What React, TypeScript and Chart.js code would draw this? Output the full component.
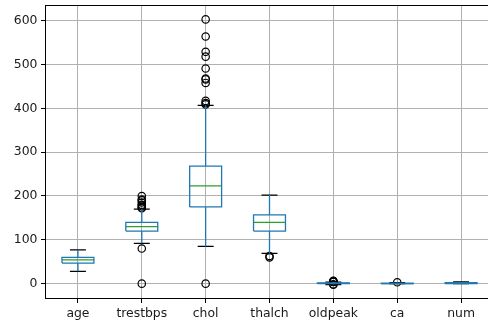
import React, { useEffect, useRef } from "react";
import { Chart, registerables } from "chart.js";

Chart.register(...registerables);

const categories = ["age", "trestbps", "chol", "thalch", "oldpeak", "ca", "num"];
const whiskerLow = [28, 92, 85, 69, -2, 0, 0];
const q1 = [47, 120, 175, 120, 0, 0, 0];
const median = [54, 130, 223, 140, 0.5, 0, 1];
const q3 = [60, 140, 268, 157, 1.5, 1, 2];
const whiskerHigh = [77, 170, 407, 202, 3.6, 2, 4];
const fliers: number[][] = [
  [],
  [0, 80, 172, 174, 178, 180, 185, 190, 192, 200],
  [0, 409, 412, 417, 458, 466, 468, 491, 518, 529, 564, 603],
  [60, 63],
  [-2.6, -1.5, 4.0, 4.2, 4.4, 5.0, 5.6, 6.2],
  [3],
  [],
];
const yTicks = [0, 100, 200, 300, 400, 500, 600];

const BOX_HALF = 0.25;
const CAP_HALF = 0.125;

type P = { x: number; y: number | null };

function buildSegments() {
  const boxes: P[] = [];
  const whiskers: P[] = [];
  const caps: P[] = [];
  const medians: P[] = [];
  const out: P[] = [];
  categories.forEach((_, i) => {
    const x = i + 1;
    boxes.push(
      { x: x - BOX_HALF, y: q1[i] },
      { x: x + BOX_HALF, y: q1[i] },
      { x: x + BOX_HALF, y: q3[i] },
      { x: x - BOX_HALF, y: q3[i] },
      { x: x - BOX_HALF, y: q1[i] },
      { x, y: null }
    );
    whiskers.push(
      { x, y: q1[i] },
      { x, y: whiskerLow[i] },
      { x, y: null },
      { x, y: q3[i] },
      { x, y: whiskerHigh[i] },
      { x, y: null }
    );
    caps.push(
      { x: x - CAP_HALF, y: whiskerLow[i] },
      { x: x + CAP_HALF, y: whiskerLow[i] },
      { x, y: null },
      { x: x - CAP_HALF, y: whiskerHigh[i] },
      { x: x + CAP_HALF, y: whiskerHigh[i] },
      { x, y: null }
    );
    medians.push(
      { x: x - BOX_HALF, y: median[i] },
      { x: x + BOX_HALF, y: median[i] },
      { x, y: null }
    );
    fliers[i].forEach((v) => out.push({ x, y: v }));
  });
  return { boxes, whiskers, caps, medians, out };
}

const framePlugin = {
  id: "frame",
  afterDatasetsDraw(chart: any) {
    const { ctx, chartArea } = chart;
    ctx.save();
    ctx.strokeStyle = "#000";
    ctx.lineWidth = 1;
    ctx.strokeRect(
      Math.round(chartArea.left) - 0.5,
      Math.round(chartArea.top) - 0.5,
      Math.round(chartArea.right - chartArea.left) + 1,
      Math.round(chartArea.bottom - chartArea.top) + 1
    );
    ctx.restore();
  },
};

export default function App() {
  const ref = useRef<HTMLCanvasElement>(null);
  useEffect(() => {
    if (!ref.current) return;
    const { boxes, whiskers, caps, medians, out } = buildSegments();
    const lineDs = (data: P[], color: string) => ({
      data,
      showLine: true,
      spanGaps: false,
      borderColor: color,
      borderWidth: 1.3,
      pointRadius: 0,
      pointHoverRadius: 0,
      fill: false,
    });
    const font = { family: "DejaVu Sans", size: 12.4 };
    const chart = new Chart(ref.current, {
      type: "scatter",
      data: {
        datasets: [
          lineDs(whiskers, "#1f77b4"),
          lineDs(boxes, "#1f77b4"),
          lineDs(caps, "#000000"),
          lineDs(medians, "#2ca02c"),
          {
            data: out,
            showLine: false,
            pointStyle: "circle",
            pointRadius: 3.7,
            pointBorderWidth: 1.2,
            pointBorderColor: "#000",
            pointBackgroundColor: "rgba(0,0,0,0)",
          } as any,
        ],
      },
      plugins: [framePlugin],
      options: {
        animation: false,
        responsive: false,
        events: [],
        layout: { padding: { top: 6, left: 0, right: 7, bottom: 0 } },
        plugins: { legend: { display: false }, tooltip: { enabled: false } },
        scales: {
          x: {
            type: "linear",
            min: 0.5,
            max: 7.5,
            afterBuildTicks: (s: any) => {
              s.ticks = categories.map((_, i) => ({ value: i + 1 }));
            },
            afterFit: (s: any) => {
              s.height = 25;
              s.paddingLeft = 0;
              s.paddingRight = 0;
            },
            ticks: {
              autoSkip: false,
              maxRotation: 0,
              padding: 3,
              color: "#1a1a1a",
              font,
              callback: (v: any) => categories[Math.round(v) - 1] ?? "",
            },
            grid: {
              color: "#b0b0b0",
              lineWidth: 1,
              tickColor: "#000",
              tickLength: 5,
            },
            border: { display: false },
          },
          y: {
            type: "linear",
            min: -32.8,
            max: 633.6,
            afterBuildTicks: (s: any) => {
              s.ticks = yTicks.map((v) => ({ value: v }));
            },
            afterFit: (s: any) => {
              s.width = 46;
              s.paddingTop = 0;
              s.paddingBottom = 0;
            },
            ticks: {
              padding: 3.5,
              color: "#1a1a1a",
              font,
            },
            grid: {
              color: "#b0b0b0",
              lineWidth: 1,
              tickColor: "#000",
              tickLength: 5,
            },
            border: { display: false },
          },
        },
      },
    });
    return () => chart.destroy();
  }, []);
  return (
    <div
      style={{
        position: "fixed",
        left: 0,
        top: 0,
        width: 488,
        height: 323,
        overflow: "hidden",
        background: "#fff",
      }}
    >
      <canvas ref={ref} width={500} height={323} style={{ width: 500, height: 323 }} />
    </div>
  );
}
